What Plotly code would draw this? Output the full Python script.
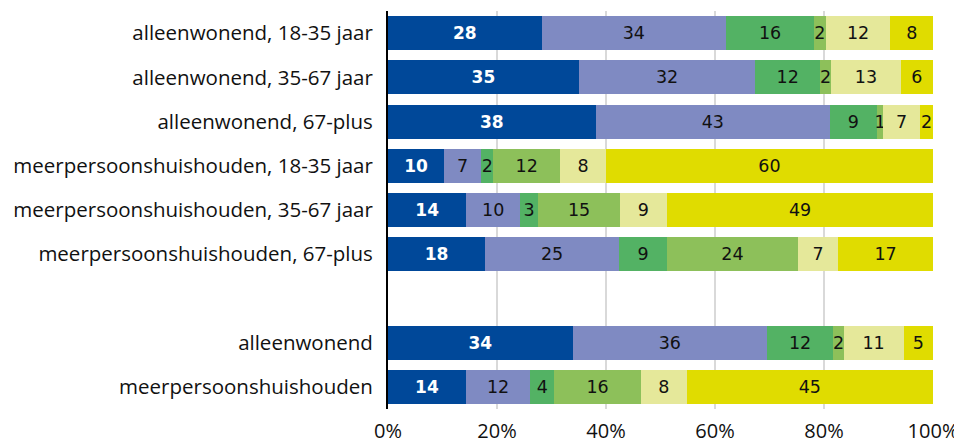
import plotly.graph_objects as go

categories = [
    "alleenwonend, 18-35 jaar",
    "alleenwonend, 35-67 jaar",
    "alleenwonend, 67-plus",
    "meerpersoonshuishouden, 18-35 jaar",
    "meerpersoonshuishouden, 35-67 jaar",
    "meerpersoonshuishouden, 67-plus",
    " ",
    "alleenwonend",
    "meerpersoonshuishouden",
]

s1 = [28.2, 35.0, 38.1, 10.3, 14.4, 17.8, None, 33.9, 14.3]
s2 = [33.8, 32.4, 43.0, 6.8, 9.8, 24.6, None, 35.6, 11.8]
s3 = [16.2, 11.9, 8.6, 2.2, 3.4, 8.8, None, 12.2, 4.4]
s4 = [2.1, 2.0, 1.2, 12.3, 14.9, 24.0, None, 1.9, 15.9]
s5 = [11.9, 12.8, 6.7, 8.4, 8.7, 7.4, None, 11.0, 8.4]
s6 = [7.8, 5.9, 2.4, 60.0, 48.8, 17.4, None, 5.4, 45.2]

series = [s1, s2, s3, s4, s5, s6]
colors = ["#004899", "#7F8AC2", "#53B264", "#8DC05A", "#E5E89A", "#E0DC00"]

tick_vals = [0, 20, 40, 60, 80, 100]
tick_text = ["0%", "20%", "40%", "60%", "80%", "100%"]

fig = go.Figure()
for i, (vals, col) in enumerate(zip(series, colors)):
    first = i == 0
    fig.add_trace(go.Bar(
        y=categories, x=vals, orientation="h",
        marker=dict(color=col, line=dict(width=0)),
        texttemplate="%{x:.0f}",
        textposition="inside",
        insidetextanchor="middle",
        constraintext="none",
        textangle=0,
        insidetextfont=dict(
            family="DejaVu Sans",
            size=17 if first else 17.5,
            color="white" if first else "#111111",
            weight="bold" if first else "normal",
        ),
        hoverinfo="skip",
        showlegend=False,
    ))

# page body has an 8px margin: figure is sized/offset to compensate
fig.update_layout(
    barmode="stack",
    bargap=0.23,
    width=954, height=438,
    margin=dict(l=380, r=29, t=3, b=37),
    paper_bgcolor="white", plot_bgcolor="white",
    font=dict(family="Open Sans", size=20, color="#111111"),
)
fig.update_xaxes(
    range=[0, 100], tickvals=tick_vals, ticktext=tick_text,
    showgrid=True, gridcolor="#D9D9D9", gridwidth=2,
    zeroline=False, showline=False, automargin=False,
    ticks="", ticklabelstandoff=8,
    tickfont=dict(family="Open Sans", size=20),
)
fig.update_yaxes(
    categoryorder="array", categoryarray=categories,
    autorange="reversed", automargin=False,
    showline=True, linecolor="black", linewidth=2,
    showgrid=False, ticks="", ticklabelstandoff=9,
    tickfont=dict(family="Open Sans", size=20.5),
)

fig.write_html("out.html")
